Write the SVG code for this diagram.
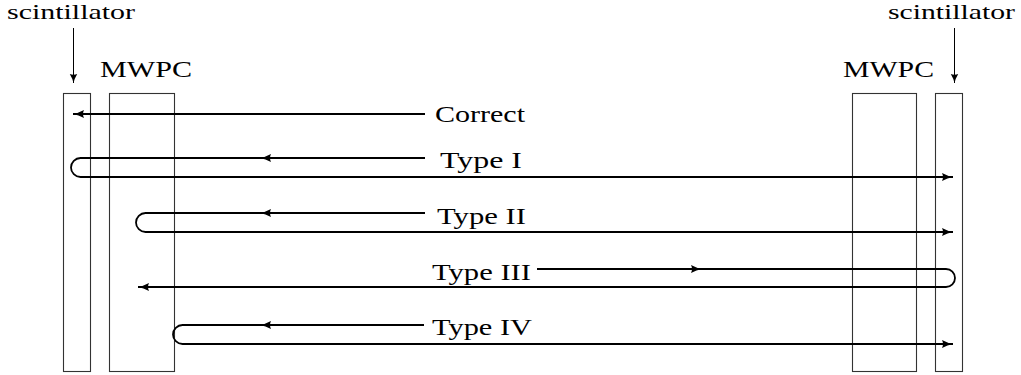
<svg xmlns="http://www.w3.org/2000/svg" width="1021" height="375" viewBox="0 0 1021 375">
  <style>
    .lbl { font-family: "Liberation Serif", "DejaVu Serif", serif; font-size: 24px; fill: #000; }
    .top { font-size: 21px; }
    .det { fill: none; stroke: #333; stroke-width: 1.1; }
    .trk { fill: none; stroke: #000; stroke-width: 1.8; }
    .ptr { fill: none; stroke: #000; stroke-width: 1; }
  </style>
  <defs>
    <marker id="head" markerUnits="userSpaceOnUse" markerWidth="12" markerHeight="10" refX="11" refY="5" orient="auto">
      <path d="M0,1 Q5.5,4 11,5 Q5.5,6 0,9 Q2,5 0,1 z" fill="#000"/>
    </marker>
    <marker id="headS" markerUnits="userSpaceOnUse" markerWidth="10" markerHeight="10" refX="9" refY="5" orient="auto">
      <path d="M0,1.3 Q4.5,4 9,5 Q4.5,6 0,8.7 Q1.6,5 0,1.3 z" fill="#000"/>
    </marker>
  </defs>

  <!-- detectors -->
  <g id="scint-left">
    <rect class="det" x="63.5" y="93.5" width="27" height="278"/>
    <text class="lbl top" x="7" y="19" textLength="128" lengthAdjust="spacingAndGlyphs">scintillator</text>
  </g>
  <g id="mwpc-left">
    <rect class="det" x="109.5" y="93.5" width="65" height="278"/>
    <text class="lbl" x="100" y="77" textLength="92" lengthAdjust="spacingAndGlyphs">MWPC</text>
  </g>
  <g id="mwpc-right">
    <rect class="det" x="852.5" y="93.5" width="64" height="278"/>
    <text class="lbl" x="843" y="77" textLength="91" lengthAdjust="spacingAndGlyphs">MWPC</text>
  </g>
  <g id="scint-right">
    <rect class="det" x="935.5" y="93.5" width="27" height="278"/>
    <text class="lbl top" x="888" y="19" textLength="127" lengthAdjust="spacingAndGlyphs">scintillator</text>
  </g>

  <!-- track labels -->
  <g id="lbl-correct"><text class="lbl" x="435" y="122" textLength="90" lengthAdjust="spacingAndGlyphs">Correct</text></g>
  <g id="lbl-type1"><text class="lbl" x="440" y="168" textLength="82" lengthAdjust="spacingAndGlyphs">Type I</text></g>
  <g id="lbl-type2"><text class="lbl" x="437" y="224" textLength="89" lengthAdjust="spacingAndGlyphs">Type II</text></g>
  <g id="lbl-type3"><text class="lbl" x="432" y="280" textLength="99" lengthAdjust="spacingAndGlyphs">Type III</text></g>
  <g id="lbl-type4"><text class="lbl" x="432" y="335" textLength="100" lengthAdjust="spacingAndGlyphs">Type IV</text></g>

  <!-- connectors -->
  <g id="connectors">
    <!-- pointers to scintillators -->
    <path class="ptr" d="M73.5 28 V83" marker-end="url(#headS)"/>
    <path class="ptr" d="M954.5 28 V83" marker-end="url(#headS)"/>

    <!-- Correct -->
    <path class="trk" d="M425 114 H73" marker-end="url(#head)"/>

    <!-- Type I -->
    <path class="trk" d="M425 158 H260" marker-end="url(#head)"/>
    <path class="trk" d="M260 158 H80.5 A9.5 9.5 0 0 0 80.5 177 H953" marker-end="url(#head)"/>

    <!-- Type II -->
    <path class="trk" d="M425 213 H260" marker-end="url(#head)"/>
    <path class="trk" d="M260 213 H145.5 A9.5 9.5 0 0 0 145.5 232 H953" marker-end="url(#head)"/>

    <!-- Type III -->
    <path class="trk" d="M537 269 H702" marker-end="url(#head)"/>
    <path class="trk" d="M702 269 H946 A9 9 0 0 1 946 287 H138" marker-end="url(#head)"/>

    <!-- Type IV -->
    <path class="trk" d="M424 325 H260" marker-end="url(#head)"/>
    <path class="trk" d="M260 325 H182.5 A9.5 9.5 0 0 0 182.5 344 H953" marker-end="url(#head)"/>
  </g>
</svg>
